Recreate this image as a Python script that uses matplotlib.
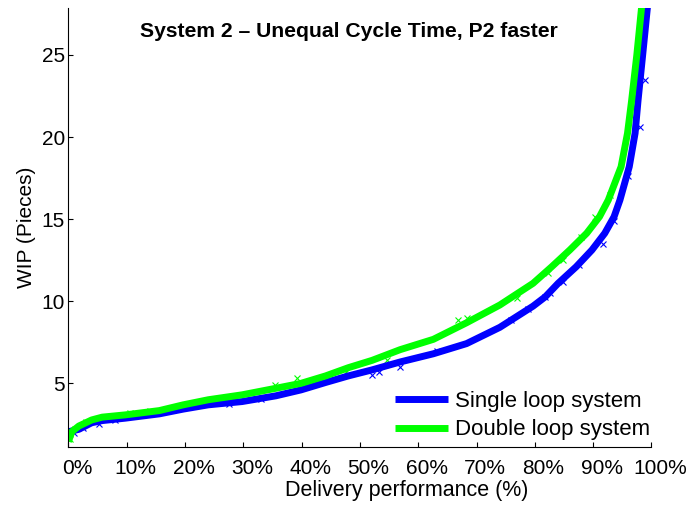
import numpy as np
import matplotlib
matplotlib.use("Agg")
import matplotlib.pyplot as plt
import matplotlib.transforms as mtransforms

plt.rcParams["font.family"] = ["Liberation Sans", "DejaVu Sans"]

# delivery performance (%) vs WIP (pieces)
single_x = [0, 1.8, 4, 5.8, 9.8, 15.6, 19.7, 24, 29.8, 35.6, 39.9, 44.1, 48,
            52.1, 56.9, 62.6, 68.3, 74, 79.7, 81.8, 84, 87.1, 89.8, 92.0,
            93.6, 94.6, 96.2, 97.2, 97.7, 98.5, 99.3, 99.5]
single_y = [2.05, 2.2, 2.6, 2.73, 2.88, 3.14, 3.43, 3.69, 3.89, 4.24, 4.6, 5.05,
            5.45, 5.82, 6.3, 6.8, 7.42, 8.41, 9.7, 10.27, 11.09, 12.1, 13.12,
            14.14, 15.15, 16.16, 18.19, 20.23, 22.2, 25.0, 27.84, 29.0]

double_x = [0, 0.6, 1.8, 4, 5.8, 9.8, 15.6, 19.7, 24, 29.8, 35.6, 39.9, 44.1,
            48, 52.1, 56.9, 62.6, 68.3, 74, 79.7, 82.9, 86.0, 88.9, 91.1, 92.6,
            94.8, 95.9, 96.6, 97.5, 98.3, 98.5]
double_y = [1.45, 2.06, 2.4, 2.77, 2.94, 3.08, 3.34, 3.69, 4.0, 4.3, 4.7, 5.0,
            5.45, 5.95, 6.4, 7.05, 7.68, 8.69, 9.77, 11.09, 12.1, 13.12, 14.14,
            15.15, 16.16, 18.19, 20.23, 22.2, 25.0, 27.84, 29.0]

# simulated samples that stick out of the fitted bands
single_pts_x = [1.0, 2.5, 5.2, 8.0, 12.5, 18.0, 27.5, 33.0, 52.0, 53.2, 56.9,
                63.2, 76.0, 78.9, 81.7, 82.6, 84.9, 87.5, 91.7, 93.5, 96.0,
                98.0, 98.9]
single_pts_y = [2.0, 2.3, 2.55, 2.75, 3.05, 3.35, 3.75, 4.05, 5.5, 5.7, 6.01,
                6.95, 8.86, 9.5, 10.24, 10.48, 11.19, 12.2, 13.5, 14.9, 17.6,
                20.6, 23.5]
double_pts_x = [0.3, 1.2, 3.0, 10.5, 14.0, 35.4, 39.2, 47.7, 54.6, 66.8, 68.3,
                76.9, 82.3, 84.9, 87.9, 90.3, 92.9, 97.8]
double_pts_y = [1.6, 2.2, 2.65, 3.2, 3.3, 4.9, 5.3, 5.71, 6.42, 8.85, 8.96,
                10.18, 11.7, 12.5, 13.9, 15.1, 16.5, 26.0]

x_ticks = [0, 10, 20, 30, 40, 50, 60, 70, 80, 90, 100]
y_ticks = [5, 10, 15, 20, 25]

blue = "#0000ff"
green = "#00ff00"

fig = plt.figure(figsize=(6.9, 5.05), dpi=100)
ax = fig.add_axes([68.4 / 690, 1 - 446.7 / 505, 583 / 690, 438.7 / 505])

ax.plot(single_pts_x, single_pts_y, "x", color=blue, ms=4, mew=0.8)
ax.plot(double_pts_x, double_pts_y, "x", color=green, ms=4, mew=0.8)
l1, = ax.plot(single_x, single_y, color=blue, lw=5, solid_capstyle="butt",
              solid_joinstyle="round")
l2, = ax.plot(double_x, double_y, color=green, lw=5, solid_capstyle="butt",
              solid_joinstyle="round")

ax.set_xlim(0, 100)
ax.set_ylim(1.14, 27.86)
ax.set_xticks(x_ticks)
ax.set_xticklabels([f"{t}%" for t in x_ticks])
ax.set_yticks(y_ticks)

for s in ["top", "right"]:
    ax.spines[s].set_visible(False)
for s in ["left", "bottom"]:
    ax.spines[s].set_linewidth(0.8)

ax.tick_params(direction="in", length=3.6, width=0.8, labelsize=15)
ax.tick_params(axis="x", pad=8.5)
ax.tick_params(axis="y", pad=2.5)

# MATLAB puts the x labels a bit right of the ticks
shift = mtransforms.ScaledTranslation(8.5 / 100, 0, fig.dpi_scale_trans)
for lab in ax.get_xticklabels():
    lab.set_transform(lab.get_transform() + shift)

ax.set_ylabel("WIP (Pieces)", fontsize=15, labelpad=4)
ax.set_xlabel("Delivery performance (%)", fontsize=15.5)
ax.xaxis.set_label_coords((406.5 - 68.4) / 583, -(480 - 446.7) / 438.7)

fig.text(349 / 690, 1 - 36.7 / 505, "System 2 \u2013 Unequal Cycle Time, P2 faster",
         ha="center", va="baseline", fontsize=15.2, fontweight="bold")

ax.legend([l1, l2], ["Single loop system", "Double loop system"],
          loc="upper left", bbox_to_anchor=((395 - 68.4) / 583, (446.7 - 391) / 438.7),
          frameon=False, fontsize=16, handlelength=2.4, handletextpad=0.32,
          labelspacing=0.33, borderpad=0, borderaxespad=0)

fig.savefig("out.png", dpi=100)
